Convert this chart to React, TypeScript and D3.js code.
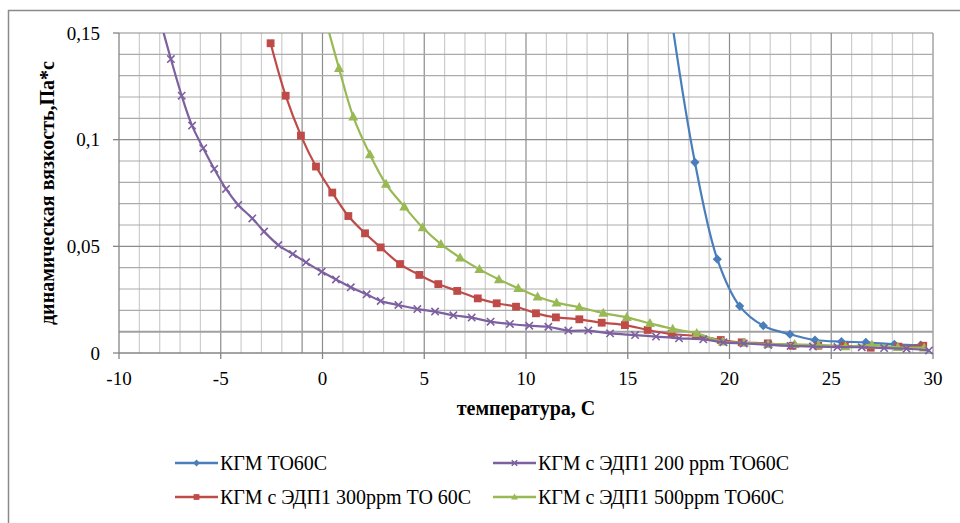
import React from 'react';
import * as d3 from 'd3';

// temperature (C) and viscosity (Pa*s)
const tBase = [15.9, 17.1, 18.3, 19.4, 20.5, 21.66, 22.97, 24.2, 25.5, 26.7, 28.1, 29.4];
const vBase = [0.25, 0.16, 0.0894, 0.044, 0.022, 0.0128, 0.0088, 0.0061, 0.0053, 0.005, 0.0041, 0.0037];

const t300 = [-2.55, -1.81, -1.06, -0.32, 0.48, 1.27, 2.09, 2.86, 3.81, 4.76, 5.69, 6.62, 7.63, 8.56, 9.51, 10.49, 11.47, 12.62, 13.72, 14.86, 15.98, 17.16, 18.35, 19.57, 20.6, 21.88, 23.1, 24.36, 25.67, 26.94, 28.3, 29.52];
const v300 = [0.1452, 0.1206, 0.1019, 0.0874, 0.0752, 0.0642, 0.0561, 0.0495, 0.0417, 0.0366, 0.0323, 0.0291, 0.0256, 0.0233, 0.0217, 0.0186, 0.0167, 0.0158, 0.0142, 0.0131, 0.0108, 0.0089, 0.008, 0.0061, 0.005, 0.0045, 0.0034, 0.0034, 0.0033, 0.0025, 0.003, 0.0034];

const t500 = [0.1, 0.81, 1.51, 2.33, 3.12, 4.02, 4.92, 5.82, 6.76, 7.71, 8.67, 9.62, 10.57, 11.5, 12.62, 13.8, 14.95, 16.09, 17.21, 18.39, 19.67, 20.71, 21.9, 23.2, 24.36, 25.7, 27.0, 28.27, 29.56];
const v500 = [0.158, 0.1335, 0.1108, 0.0931, 0.0792, 0.0686, 0.0588, 0.051, 0.0447, 0.0392, 0.0345, 0.0303, 0.0264, 0.0236, 0.0214, 0.0187, 0.0167, 0.0139, 0.0113, 0.0092, 0.0053, 0.0048, 0.0042, 0.0041, 0.0038, 0.003, 0.0038, 0.0027, 0.0025];

const t200 = [-7.95, -7.45, -6.92, -6.41, -5.86, -5.32, -4.74, -4.14, -3.45, -2.87, -2.17, -1.46, -0.81, -0.04, 0.66, 1.39, 2.17, 2.86, 3.73, 4.66, 5.53, 6.43, 7.33, 8.26, 9.21, 10.16, 11.1, 12.08, 13.06, 14.13, 15.36, 16.39, 17.52, 18.71, 19.7, 20.7, 21.9, 23.0, 24.1, 25.3, 26.5, 27.6, 28.7, 29.8];
const v200 = [0.155, 0.1378, 0.1206, 0.1066, 0.096, 0.0863, 0.0769, 0.0694, 0.0631, 0.0569, 0.0506, 0.0464, 0.0425, 0.0381, 0.0345, 0.0308, 0.0275, 0.0244, 0.0225, 0.0206, 0.0194, 0.0177, 0.0166, 0.0147, 0.0136, 0.0128, 0.0123, 0.0105, 0.0105, 0.0092, 0.0084, 0.0077, 0.0069, 0.0064, 0.005, 0.0045, 0.0038, 0.0033, 0.003, 0.0028, 0.0027, 0.0023, 0.002, 0.0012];

// Excel series order (draw order)
const seriesNames = ['КГМ ТО60С', 'КГМ с ЭДП1 300ppm ТО 60С', 'КГМ с ЭДП1 500ppm ТО60С', 'КГМ с ЭДП1 200 ppm ТО60С'];
const seriesColors = ['#4a7ebb', '#be4b48', '#98b954', '#7d60a0'];
const seriesMarkers = ['diamond', 'square', 'triangle', 'x'];
const seriesT = [tBase, t300, t500, t200];
const seriesV = [vBase, v300, v500, v200];
// legend slot of each series (column, row)
const legendCol = [0, 0, 1, 1];
const legendRow = [0, 1, 1, 0];

const xTickValues = [-10, -5, 0, 5, 10, 15, 20, 25, 30];
const yTickValues = [0, 0.05, 0.1, 0.15];

const FONT = 'Times New Roman';
const W = 960;
const H = 523;
const left = 119;
const right = 933;
const top = 33;
const bottom = 353;

const x = d3.scaleLinear().domain([-10, 30]).range([left, right]);
const y = d3.scaleLinear().domain([0, 0.15]).range([bottom, top]);
const line = d3.line<[number, number]>()
  .x((d) => x(d[0]))
  .y((d) => y(d[1]))
  .curve(d3.curveCatmullRom.alpha(0.5));

function Marker({ kind, cx, cy, color, s }) {
  if (kind === 'diamond') {
    return <path d={`M${cx},${cy - s}L${cx + s},${cy}L${cx},${cy + s}L${cx - s},${cy}Z`} fill={color} />;
  }
  if (kind === 'square') {
    return <rect x={cx - s * 0.85} y={cy - s * 0.85} width={s * 1.7} height={s * 1.7} fill={color} />;
  }
  if (kind === 'triangle') {
    return <path d={`M${cx},${cy - s * 1.05}L${cx + s},${cy + s * 0.75}L${cx - s},${cy + s * 0.75}Z`} fill={color} />;
  }
  const r = s * 0.8;
  return (
    <path
      d={`M${cx - r},${cy - r}L${cx + r},${cy + r}M${cx - r},${cy + r}L${cx + r},${cy - r}`}
      stroke={color}
      strokeWidth={1.6}
      fill="none"
    />
  );
}

export default function App() {
  const fmt = (d: number) => String(d).replace('.', ',');
  const axisColor = '#868686';

  return (
    <div style={{ position: 'absolute', left: 0, top: 0, fontFamily: FONT }}>
      <svg width={W} height={H} viewBox={`0 0 ${W} ${H}`} style={{ display: 'block' }} fontFamily={FONT}>
        <style>{`text { font-family: 'Liberation Serif', 'Times New Roman', serif !important; }`}</style>
        <rect width={W} height={H} fill="#fff" />
        {/* scanned page border, top and left only */}
        <line x1={8} x2={W} y1={10.5} y2={10.5} stroke="#8a8a8a" strokeWidth={1.5} />
        <line x1={8.5} x2={8.5} y1={10} y2={H} stroke="#8a8a8a" strokeWidth={1.5} />

        {/* gridlines */}
        {x.ticks(40).filter((t) => t !== -10).map((t) => {
          const k = Math.round(t);
          const major = k % 5 === 0;
          const special = k === -1;
          return (
            <line key={`vx${t}`} x1={x(t)} x2={x(t)} y1={top} y2={bottom}
              stroke={major ? '#8c8c8c' : special ? '#a8a8a8' : '#cdcdcd'}
              strokeWidth={special ? 1.6 : 1.2} />
          );
        })}
        {y.ticks(15).filter((v) => Math.round(v * 100) !== 0).map((v) => {
          const k = Math.round(v * 100);
          const major = k % 5 === 0;
          const special = k === 1;
          return (
            <line key={`hy${k}`} x1={left} x2={right} y1={y(v)} y2={y(v)}
              stroke={major ? '#8c8c8c' : special ? '#a0a0a0' : '#ababab'}
              strokeWidth={special ? 2 : 1.2} />
          );
        })}

        {/* axes */}
        <line x1={left} x2={right} y1={bottom} y2={bottom} stroke={axisColor} strokeWidth={1.3} />
        <line x1={left} x2={left} y1={top} y2={bottom} stroke={axisColor} strokeWidth={1.3} />
        {xTickValues.map((t) => (
          <g key={`xt${t}`}>
            <line x1={x(t)} x2={x(t)} y1={bottom} y2={bottom + 6} stroke={axisColor} strokeWidth={1.3} />
            <text x={x(t)} y={385} textAnchor="middle" fontSize={19} fill="#000" fontFamily={FONT}>{t}</text>
          </g>
        ))}
        {yTickValues.map((v) => (
          <g key={`yt${v}`}>
            <line x1={left - 6} x2={left} y1={y(v)} y2={y(v)} stroke={axisColor} strokeWidth={1.3} />
            <text x={100} y={y(v)} dy="0.35em" textAnchor="end" fontSize={19} fill="#000" fontFamily={FONT}>{fmt(v)}</text>
          </g>
        ))}

        {/* series */}
        <clipPath id="plot-clip">
          <rect x={left - 2} y={top} width={right - left + 6} height={bottom - top + 4} />
        </clipPath>
        <g clipPath="url(#plot-clip)">
          {seriesT.map((ts, i) => {
            const pts = ts.map((t, j) => [t, seriesV[i][j]] as [number, number]);
            return (
              <g key={`s${i}`}>
                <path d={line(pts) || ''} fill="none" stroke={seriesColors[i]} strokeWidth={2.2} />
                {pts.map((p, j) => (
                  <Marker key={j} kind={seriesMarkers[i]} cx={x(p[0])} cy={y(p[1])} color={seriesColors[i]}
                    s={seriesMarkers[i] === 'triangle' ? 5 : 4.6} />
                ))}
              </g>
            );
          })}
        </g>

        {/* axis titles */}
        <text x={(left + right) / 2} y={415} textAnchor="middle" fontWeight="bold" fontSize={20} fontFamily={FONT}>
          температура, С
        </text>
        <text transform={`translate(54,${(top + bottom) / 2}) rotate(-90)`} textAnchor="middle"
          fontWeight="bold" fontSize={20} fontFamily={FONT}>
          динамическая вязкость,Па*с
        </text>

        {/* legend */}
        {seriesNames.map((name, i) => {
          const lx = [175, 493][legendCol[i]];
          const ly = [463, 497][legendRow[i]];
          return (
            <g key={name} transform={`translate(${lx},${ly})`}>
              <line x1={0} x2={43} y1={0} y2={0} stroke={seriesColors[i]} strokeWidth={2.4} />
              <Marker kind={seriesMarkers[i]} cx={21.5} cy={0} color={seriesColors[i]} s={3.4} />
              <text x={45} y={0} dy="0.35em" fontSize={20} fontFamily={FONT}>{name}</text>
            </g>
          );
        })}
      </svg>
    </div>
  );
}
